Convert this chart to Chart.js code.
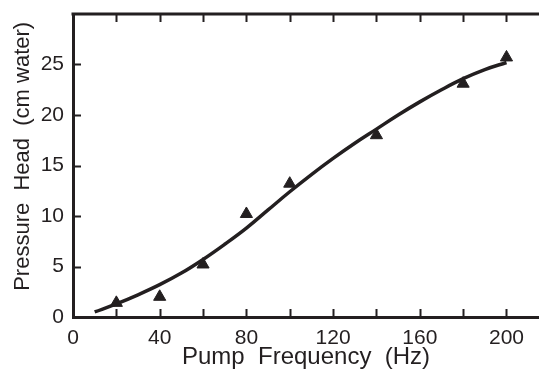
<!DOCTYPE html>
<html>
<head>
<meta charset="utf-8">
<script src="https://cdn.jsdelivr.net/npm/chart.js@4"></script>
<style>
    html, body { margin: 0; padding: 0; background: #fff; }
    #wrap { width: 539px; height: 372px; }
</style>
</head>
<body>
<div id="wrap"><canvas id="chart"></canvas></div>
<script>
// measured points (triangles)
var freqPoints = [20, 40, 60, 80, 100, 140, 180, 200];
var headPoints = [1.4, 2.0, 5.2, 10.2, 13.2, 18.0, 23.1, 25.7];

// fitted curve
var freqCurve = [10, 20, 30, 40, 50, 60, 70, 80, 90, 100, 110, 120, 130, 140, 150, 160, 170, 180, 190, 200];
var headCurve = [0.5, 1.3, 2.2, 3.2, 4.35, 5.7, 7.2, 8.8, 10.6, 12.4, 14.1, 15.7, 17.2, 18.6, 20.0, 21.3, 22.5, 23.6, 24.5, 25.2];

var xTickMarks = [20, 40, 60, 80, 100, 120, 140, 160, 180, 200];
var yTickMarks = [5, 10, 15, 20, 25];

var ink = "#231f20";
var font = "'Liberation Sans', Arial, sans-serif";

function toXY(xs, ys) {
    return xs.map(function(x, i) { return { x: x, y: ys[i] }; });
}

// short tick marks pointing into the plot, plus the top frame line
var innerTicks = {
    id: "innerTicks",
    afterDraw: function(chart) {
        var ctx = chart.ctx,
            xs = chart.scales.x,
            ys = chart.scales.y,
            area = chart.chartArea,
            len = 8;

        ctx.save();
        ctx.strokeStyle = ink;
        ctx.lineWidth = 2;
        ctx.beginPath();
        xTickMarks.forEach(function(v) {
            var px = Math.round(xs.getPixelForValue(v)) + 0.5;
            ctx.moveTo(px, area.bottom);
            ctx.lineTo(px, area.bottom - len);
            ctx.moveTo(px, area.top);
            ctx.lineTo(px, area.top + len);
        });
        yTickMarks.forEach(function(v) {
            var py = Math.round(ys.getPixelForValue(v)) + 0.5;
            ctx.moveTo(area.left, py);
            ctx.lineTo(area.left + len, py);
        });
        ctx.stroke();

        ctx.lineWidth = 3;
        ctx.beginPath();
        ctx.moveTo(area.left - 1.5, area.top);
        ctx.lineTo(area.right, area.top);
        ctx.stroke();
        ctx.restore();
    }
};

new Chart("chart", {
    type: "scatter",
    data: {
        datasets: [
            {
                label: "fit",
                data: toXY(freqCurve, headCurve),
                showLine: true,
                borderColor: ink,
                borderWidth: 3.5,
                pointRadius: 0,
                tension: 0.4,
                fill: false,
                order: 2
            },
            {
                label: "measured",
                data: toXY(freqPoints, headPoints),
                pointStyle: "triangle",
                pointRadius: 7,
                backgroundColor: ink,
                borderColor: ink,
                borderWidth: 1,
                order: 1
            }
        ]
    },
    options: {
        responsive: true,
        maintainAspectRatio: false,
        animation: false,
        layout: {
            autoPadding: false,
            padding: { top: 14, right: 0, left: 0, bottom: 0 }
        },
        plugins: {
            legend: { display: false },
            tooltip: { enabled: false }
        },
        scales: {
            x: {
                type: "linear",
                min: 0,
                max: 215,
                grid: { display: false, drawTicks: false },
                border: { display: true, color: ink, width: 3 },
                ticks: {
                    stepSize: 40,
                    includeBounds: false,
                    maxRotation: 0,
                    padding: 9,
                    color: ink,
                    font: { family: font, size: 21 }
                },
                title: {
                    display: true,
                    text: "Pump  Frequency  (Hz)",
                    color: ink,
                    padding: { top: 0, bottom: 0 },
                    font: { family: font, size: 24 }
                },
                afterFit: function(scale) {
                    scale.height = 55;
                    scale.paddingLeft = 0;
                    scale.paddingRight = 0;
                }
            },
            y: {
                min: 0,
                max: 30,
                grid: { display: false, drawTicks: false },
                border: { display: true, color: ink, width: 3 },
                ticks: {
                    stepSize: 5,
                    padding: 9,
                    color: ink,
                    font: { family: font, size: 21 },
                    callback: function(v) { return v === 30 ? "" : v; }
                },
                title: {
                    display: true,
                    text: "   Pressure  Head  (cm water)",
                    color: ink,
                    padding: { top: 10, bottom: 0 },
                    font: { family: font, size: 22 }
                },
                afterFit: function(scale) {
                    scale.width = 73;
                    scale.paddingTop = 0;
                    scale.paddingBottom = 0;
                }
            }
        }
    },
    plugins: [innerTicks]
});
</script>
</body>
</html>
